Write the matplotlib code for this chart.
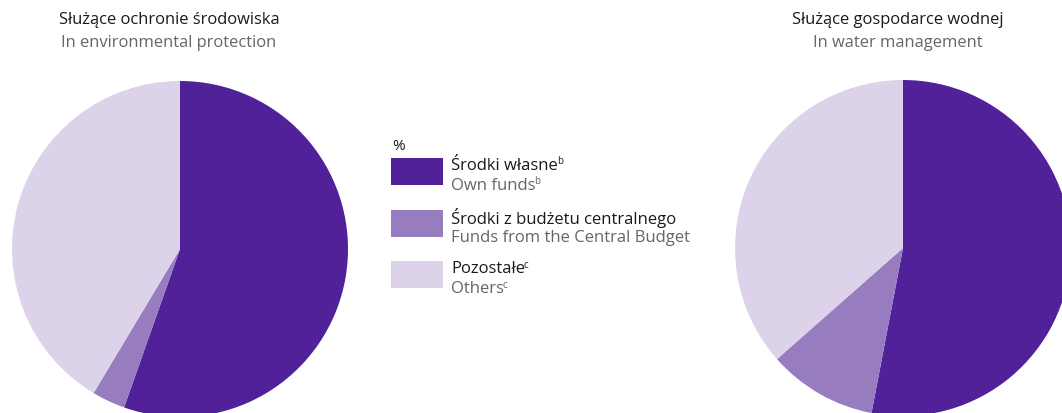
import matplotlib
matplotlib.use("Agg")
import matplotlib.pyplot as plt
from matplotlib.patches import Rectangle

plt.rcParams['font.family'] = ['Open Sans', 'DejaVu Sans']

# data (% shares)
labels_pl = ["Środki własne", "Środki z budżetu centralnego", "Pozostałe"]
labels_en = ["Own funds", "Funds from the Central Budget", "Others"]
label_sups = ["b", "", "c"]
env_share = [55.4, 3.2, 41.4]
water_share = [53.0, 10.5, 36.5]
colors = ["#51219a", "#977cc0", "#dcd3ea"]

W, H = 1062, 414
fig = plt.figure(figsize=(W / 100, H / 100), dpi=100)
ax = fig.add_axes([0, 0, 1, 1])

# pies, in pixel coordinates (y up)
ax.pie(env_share, colors=colors, startangle=90, counterclock=False,
       center=(180, H - 250), radius=168, wedgeprops=dict(linewidth=0))
ax.pie(water_share, colors=colors, startangle=90, counterclock=False,
       center=(903, H - 249), radius=168, wedgeprops=dict(linewidth=0))
ax.set_xlim(0, W)
ax.set_ylim(0, H)
ax.set_aspect("auto")
ax.axis("off")

# titles
ax.text(169, H - 20, "Służące ochronie środowiska", ha="center", va="center",
        fontsize=11.9, color="#1a1a1a")
ax.text(169, H - 43, "In environmental protection", ha="center", va="center",
        fontsize=11.9, color="#666666")
ax.text(898, H - 20, "Służące gospodarce wodnej", ha="center", va="center",
        fontsize=11.9, color="#1a1a1a")
ax.text(898, H - 43, "In water management", ha="center", va="center",
        fontsize=11.9, color="#666666")

# legend
fig.canvas.draw()
renderer = fig.canvas.get_renderer()


def text_sup(x, y, s, sup, color):
    t = ax.text(x, y, s, ha="left", va="center", fontsize=12, color=color)
    if sup:
        bb = t.get_window_extent(renderer)
        ax.text(bb.x1 - 1, y + 4, sup, ha="left", va="center",
                fontsize=7, color=color)


ax.text(392, H - 146, "%", ha="left", va="center", fontsize=11, color="#1a1a1a")
box_tops = [159, 211, 262]
for i in range(3):
    top = box_tops[i]
    ax.add_patch(Rectangle((391, H - top - 27), 52, 27, color=colors[i], lw=0))
    text_sup(451, H - top - 7, labels_pl[i], label_sups[i], "#1a1a1a")
    text_sup(451, H - top - 27, labels_en[i], label_sups[i], "#666666")

fig.savefig("out.png", dpi=100)
